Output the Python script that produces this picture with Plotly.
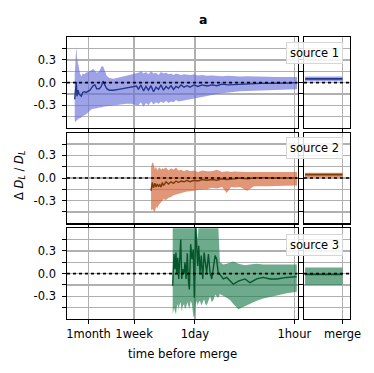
import plotly.graph_objects as go

# ---------------- data ----------------
# time before merge in hours
t1 = [1122, 1087, 1066, 1042, 1009, 977, 946, 908, 869, 826, 782, 733, 688, 645, 619, 586, 555, 511, 480, 454,
      430, 403, 371, 326, 264, 213, 181, 155,
      146, 135, 124, 115, 106, 97.7, 90.3, 83.3, 76.9, 71.0, 65.6, 60.5, 55.9, 51.6, 47.6, 44.0, 40.6, 37.5,
      34.0, 30.9, 28.1, 24.7, 21.8, 19.1, 16.3, 13.9, 11.9, 10.1, 8.33, 6.88, 5.68, 4.54, 3.63, 2.90, 2.32,
      1.85, 1.48, 1.18, 0.917]
mid1 = [-0.22, -0.05, 0.01, -0.18, -0.10, -0.15, -0.17, -0.18, -0.13, -0.12, -0.13, -0.12, -0.10, -0.06, -0.04,
        -0.03, -0.08, -0.08, -0.05, 0.02, -0.03, -0.08, -0.10, -0.10, -0.085, -0.07, -0.05, -0.045,
        -0.09, -0.03, -0.11, -0.05, -0.10, -0.04, -0.12, -0.06, -0.09, -0.03, -0.10, -0.05, -0.08, -0.04, -0.09,
        -0.05, -0.07, -0.03, -0.06, -0.04, -0.06, -0.03, -0.05, -0.03, -0.045, -0.03, -0.04, -0.02, -0.03,
        -0.025, -0.02, -0.02, -0.015, -0.01, -0.01, -0.01, -0.005, -0.005, 0.0]
hi1 = [0.10, 0.40, 0.48, 0.33, 0.25, 0.14, 0.12, 0.08, 0.12, 0.11, 0.13, 0.14, 0.16, 0.17, 0.18, 0.15, 0.13, 0.15,
       0.21, 0.22, 0.17, 0.09, 0.06, 0.05, 0.07, 0.09, 0.11, 0.12,
       0.13, 0.15, 0.12, 0.14, 0.11, 0.15, 0.12, 0.13, 0.10, 0.14, 0.12, 0.13, 0.11, 0.12, 0.10, 0.12, 0.11,
       0.10, 0.11, 0.10, 0.10, 0.11, 0.095, 0.10, 0.09, 0.095, 0.09, 0.085, 0.09, 0.085, 0.08, 0.085, 0.08,
       0.08, 0.078, 0.076, 0.075, 0.075, 0.075]
lo1 = [-0.51, -0.52, -0.50, -0.50, -0.48, -0.47, -0.47, -0.46, -0.44, -0.43, -0.42, -0.40, -0.37, -0.35, -0.35,
       -0.34, -0.34, -0.33, -0.33, -0.32, -0.32, -0.31, -0.31, -0.30, -0.29, -0.28, -0.28, -0.30,
       -0.30, -0.26, -0.32, -0.27, -0.30, -0.25, -0.29, -0.26, -0.28, -0.25, -0.27, -0.24, -0.27, -0.25, -0.26,
       -0.23, -0.25, -0.24, -0.23, -0.22, -0.22, -0.21, -0.20, -0.19, -0.17, -0.16, -0.15, -0.14, -0.13, -0.12,
       -0.115, -0.11, -0.105, -0.10, -0.097, -0.095, -0.093, -0.09, -0.088]

t2 = [97.7, 94.1, 90.3, 86.6, 83.3, 80.0, 76.9, 73.8, 71.0, 68.1, 65.6, 60.5, 55.9, 51.6, 47.6, 44.0, 40.6, 37.5,
      34.0, 30.9, 28.1, 24.7, 21.8, 19.1, 16.3, 13.9, 11.9, 10.1, 8.69, 7.57, 6.88, 5.68, 4.54, 3.63, 2.90, 2.32,
      1.85, 1.48, 1.18, 0.917]
mid2 = [-0.17, -0.06, -0.13, -0.07, -0.12, -0.08, -0.11, -0.09, -0.12, -0.06, -0.10, -0.05, -0.08, -0.05, -0.07,
        -0.04, -0.06, -0.04, -0.05, -0.03, -0.05, -0.03, -0.04, -0.02, -0.03, -0.02, -0.03, -0.01, -0.02, -0.02,
        -0.01, 0.0, -0.01, 0.0, 0.005, 0.0, 0.0, 0.0, 0.0, 0.0]
hi2 = [0.14, 0.21, 0.19, 0.12, 0.15, 0.10, 0.13, 0.14, 0.11, 0.13, 0.12, 0.14, 0.10, 0.13, 0.11, 0.14, 0.10, 0.11,
       0.09, 0.11, 0.09, 0.10, 0.08, 0.10, 0.09, 0.09, 0.11, 0.08, 0.09, 0.08, 0.085, 0.08, 0.08, 0.08, 0.08,
       0.08, 0.08, 0.08, 0.08, 0.08]
lo2 = [-0.43, -0.41, -0.43, -0.45, -0.38, -0.40, -0.36, -0.34, -0.33, -0.30, -0.28, -0.29, -0.26, -0.25, -0.23,
       -0.22, -0.21, -0.20, -0.19, -0.18, -0.17, -0.17, -0.16, -0.15, -0.15, -0.13, -0.14, -0.12, -0.20, -0.12,
       -0.125, -0.12, -0.17, -0.11, -0.11, -0.11, -0.105, -0.10, -0.10, -0.10]

t3 = [48.9, 46.9, 45.4, 44.0, 43.0, 41.6, 40.3, 39.6, 37.8, 36.6, 35.5, 34.0, 33.0, 31.9, 30.6, 29.7, 28.7, 27.5,
      26.4, 25.3, 24.5, 23.4, 22.7, 22.0, 21.3, 20.4, 19.6, 18.7, 17.9, 17.2, 16.5, 15.6, 14.8, 14.0, 13.3, 12.6,
      12.0, 11.4, 10.8, 9.69, 8.69, 7.82, 7.03, 5.99, 4.84, 4.12, 3.33, 2.70, 2.18, 1.75, 1.28, 0.926]
mid3 = [-0.16, 0.26, 0.06, 0.28, 0.0, 0.21, -0.07, 0.10, 0.45, -0.07, 0.06, 0.0, 0.15, -0.07, 0.27, -0.07, -0.21,
        0.39, 0.19, 0.32, -0.32, 0.63, 0.41, 0.10, 0.37, 0.01, 0.24, -0.07, 0.28, 0.10, 0.01, 0.26, 0.01, -0.07,
        0.10, 0.24, 0.19, 0.01, -0.01, -0.07, -0.05, -0.10, -0.14, -0.10, -0.07, -0.12, -0.07, -0.05, -0.07,
        -0.07, -0.05, -0.04]
hi3 = [0.65, 0.65, 0.65, 0.65, 0.65, 0.65, 0.65, 0.65, 0.65, 0.65, 0.65, 0.65, 0.65, 0.65, 0.65, 0.65, 0.65, 0.65,
       0.65, 0.65, 0.65, 0.66, 0.65, 0.45, 0.65, 0.65, 0.65, 0.65, 0.65, 0.65, 0.65, 0.65, 0.65, 0.65, 0.65, 0.65,
       0.65, 0.65, 0.15, 0.12, 0.13, 0.14, 0.16, 0.13, 0.11, 0.12, 0.13, 0.12, 0.12, 0.12, 0.12, 0.12]
lo3 = [-0.54, -0.45, -0.50, -0.54, -0.45, -0.40, -0.48, -0.42, -0.38, -0.50, -0.43, -0.40, -0.47, -0.44, -0.38,
       -0.42, -0.47, -0.36, -0.40, -0.56, -0.58, -0.40, -0.36, -0.42, -0.38, -0.36, -0.42, -0.38, -0.34, -0.40,
       -0.42, -0.36, -0.30, -0.38, -0.35, -0.28, -0.30, -0.32, -0.27, -0.30, -0.32, -0.35, -0.40, -0.47, -0.44,
       -0.40, -0.36, -0.33, -0.31, -0.29, -0.26, -0.24]

# values at merge (right-hand panels)
merge_x = [0, 1]
merge_lo = [0.02, 0.01, -0.15]
merge_mid = [0.05, 0.045, -0.01]
merge_hi = [0.08, 0.07, 0.08]

sources = ["source 1", "source 2", "source 3"]
x_tick_hours = [720, 168, 24, 1]
x_tick_labels = ["1month", "1week", "1day", "1hour"]
y_major_vals = [-0.3, 0.0, 0.3]
y_major_text = ["-0.3", "0.0", "0.3"]
y_minor_vals = [-0.45, -0.15, 0.15, 0.45]

# ---------------- styling ----------------
band_colors = ["rgba(106,113,220,0.65)", "rgba(210,93,47,0.65)", "rgba(32,124,78,0.65)"]
line_colors = ["#23378c", "#7a3c05", "#05562b"]

W, H = 374, 373
FONT = dict(family="DejaVu Sans", size=11.7, color="black")
TICKFONT = dict(family="DejaVu Sans", size=11.5, color="black")
GRID = "#b0b0b0"

fig = go.Figure()
series = [(t1, lo1, mid1, hi1), (t2, lo2, mid2, hi2), (t3, lo3, mid3, hi3)]
rows = [(37.3, 128.0), (132.7, 223.3), (228.3, 319.0)]
left_dom = [67 / W, 297.5 / W]
right_dom = [304 / W, 350 / W]

def ax_name(kind, n):
    return kind if n == 1 else f"{kind}{n}"

minor_y = dict(tickvals=y_minor_vals, ticks="outside", ticklen=3.5, tickwidth=1, tickcolor="black",
               showgrid=True, gridcolor=GRID, gridwidth=1.3)

shapes = []
annotations = []
for i, (t, lo, mid, hi) in enumerate(series):
    L, R = 2 * i + 1, 2 * i + 2
    xl, yl = ("x" if L == 1 else f"x{L}"), ("y" if L == 1 else f"y{L}")
    xr, yr = f"x{R}", f"y{R}"
    # left: band + median
    fig.add_trace(go.Scatter(x=list(t) + list(t[::-1]), y=list(hi) + list(lo[::-1]), fill="toself",
                             fillcolor=band_colors[i], line=dict(width=0), mode="lines",
                             hoverinfo="skip", xaxis=xl, yaxis=yl))
    fig.add_trace(go.Scatter(x=t, y=mid, mode="lines", line=dict(color=line_colors[i], width=1.4),
                             xaxis=xl, yaxis=yl))
    # right: merge value
    fig.add_trace(go.Scatter(x=merge_x + merge_x[::-1],
                             y=[merge_hi[i]] * 2 + [merge_lo[i]] * 2, fill="toself",
                             fillcolor=band_colors[i], line=dict(width=0), mode="lines",
                             hoverinfo="skip", xaxis=xr, yaxis=yr))
    fig.add_trace(go.Scatter(x=merge_x, y=[merge_mid[i]] * 2, mode="lines",
                             line=dict(color=line_colors[i], width=1.6), xaxis=xr, yaxis=yr))

    ydom = [1 - rows[i][1] / H, 1 - rows[i][0] / H]
    common = dict(showline=True, linecolor="black", linewidth=1.2, mirror=True,
                  ticks="outside", ticklen=3.5, tickwidth=1, tickcolor="black", automargin=False,
                  showgrid=True, gridcolor=GRID, gridwidth=1.3, zeroline=False, tickfont=TICKFONT)
    fig.update_layout(**{
        ax_name("xaxis", L): dict(domain=left_dom, anchor=yl, type="log", range=[3.157, -0.044],
                                  tickvals=x_tick_hours, ticktext=x_tick_labels, tickangle=0,
                                  showticklabels=(i == 2), **common),
        ax_name("yaxis", L): dict(domain=ydom, anchor=xl, range=[-0.6, 0.6], tickvals=y_major_vals,
                                  ticktext=y_major_text, ticklabelstandoff=4, minor=minor_y, **common),
        ax_name("xaxis", R): dict(domain=right_dom, anchor=yr, range=[-0.03, 1.2], tickvals=[1],
                                  ticktext=["merge"], tickangle=0, showticklabels=(i == 2), **common),
        ax_name("yaxis", R): dict(domain=ydom, anchor=xr, range=[-0.6, 0.6], tickvals=y_major_vals,
                                  showticklabels=False, minor=minor_y, **common),
    })
    for xa, ya in ((xl, yl), (xr, yr)):
        shapes.append(dict(type="line", xref=f"{xa} domain", yref=ya, x0=0, x1=1, y0=0, y1=0,
                           line=dict(color="black", width=1.6, dash="dot"), layer="above"))
    cy = [53, 148.5, 244.7][i]
    annotations.append(dict(text=sources[i], x=314 / W, y=1 - cy / H, xref="paper", yref="paper",
                            showarrow=False, font=TICKFONT, bgcolor="rgba(255,255,255,0.85)",
                            bordercolor="#d6d6d6", borderwidth=1, borderpad=3,
                            xanchor="center", yanchor="middle"))

annotations.append(dict(text="<b>a</b>", x=203 / W, y=1 - 19 / H, xref="paper", yref="paper",
                        showarrow=False, font=dict(family="DejaVu Sans", size=12.5, color="black"),
                        xanchor="center", yanchor="middle"))
annotations.append(dict(text="time before merge", x=182.5 / W, y=1 - 354 / H, xref="paper", yref="paper",
                        showarrow=False, font=FONT, xanchor="center", yanchor="middle"))
annotations.append(dict(text="Δ <i>D<sub>L</sub></i> / <i>D<sub>L</sub></i>", x=19 / W, y=1 - 176 / H,
                        xref="paper", yref="paper", textangle=-90, showarrow=False, font=TICKFONT,
                        xanchor="center", yanchor="middle"))

fig.update_layout(width=W, height=H, margin=dict(l=0, r=0, t=0, b=0), showlegend=False,
                  plot_bgcolor="white", paper_bgcolor="white", shapes=shapes, annotations=annotations,
                  font=TICKFONT, hovermode=False)
fig.write_html("out.html", config={"displayModeBar": False, "staticPlot": True},
               post_script="document.body.style.margin='0';")
